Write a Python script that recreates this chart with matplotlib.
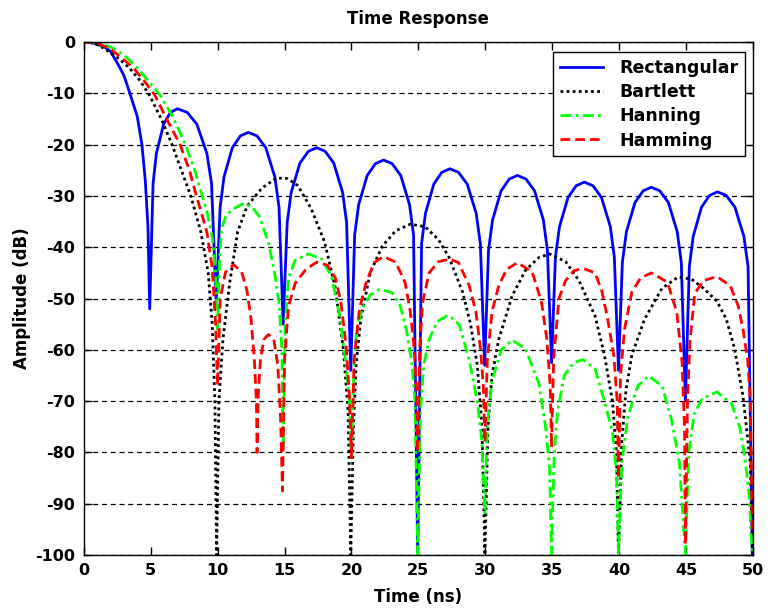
import numpy as np
import matplotlib
matplotlib.use("Agg")
import matplotlib.pyplot as plt

# ---- data (time in ns, amplitude in dB) ----
rect_pts = [
    (0, 0), (0.5, -0.1), (1, -0.4), (1.5, -0.9), (2, -1.8), (2.6, -4.5), (3, -6.5),
    (3.4, -9.6), (4.0, -14.5), (4.35, -20), (4.6, -27), (4.8, -36), (4.93, -52),
    (5.18, -27.6), (5.43, -21.7), (5.97, -16), (6.48, -13.7), (7.0, -13), (7.73, -13.7),
    (8.45, -16), (9.2, -21.7), (9.55, -27.6), (9.9, -51),
    (10.19, -32.2), (10.48, -26.3), (11.1, -20.6), (11.7, -18.3), (12.3, -17.6), (12.95, -18.3),
    (13.6, -20.6), (14.28, -26.3), (14.59, -32.2), (14.9, -55),
    (15.2, -35.2), (15.5, -29.3), (16.15, -23.6), (16.78, -21.3), (17.4, -20.6), (18.04, -21.3),
    (18.68, -23.6), (19.34, -29.3), (19.64, -35.2), (19.95, -64),
    (20.24, -37.6), (20.54, -31.7), (21.18, -26), (21.79, -23.7), (22.4, -23), (23.04, -23.7),
    (23.68, -26), (24.34, -31.7), (24.64, -37.6), (24.95, -100),
    (25.24, -39.3), (25.53, -33.4), (26.15, -27.7), (26.75, -25.4), (27.35, -24.7), (28.0, -25.4),
    (28.65, -27.7), (29.32, -33.4), (29.63, -39.3), (29.95, -63),
    (30.24, -40.6), (30.54, -34.7), (31.18, -29), (31.79, -26.7), (32.4, -26), (33.04, -26.7),
    (33.68, -29), (34.34, -34.7), (34.64, -40.6), (34.95, -62.5),
    (35.24, -41.9), (35.54, -36), (36.18, -30.3), (36.79, -28), (37.4, -27.3), (38.04, -28),
    (38.68, -30.3), (39.34, -36), (39.64, -41.9), (39.95, -64),
    (40.24, -42.9), (40.54, -37), (41.18, -31.3), (41.79, -29), (42.4, -28.3), (43.04, -29),
    (43.68, -31.3), (44.34, -37), (44.64, -42.9), (44.95, -70),
    (45.24, -43.8), (45.53, -37.9), (46.15, -32.2), (46.75, -29.9), (47.35, -29.2), (48.0, -29.9),
    (48.65, -32.2), (49.32, -37.9), (49.63, -43.8), (49.95, -100),
]

bartlett_pts = [
    (0, 0), (0.5, -0.1), (1, -0.5), (1.5, -1.2), (2.5, -3), (3.4, -5), (4.2, -7.5),
    (4.9, -10.3), (5.8, -15), (6.6, -20), (7.3, -25), (8.0, -30), (8.75, -37), (9.3, -45),
    (9.6, -55), (9.8, -70), (9.93, -100),
    (10.1, -70), (10.4, -58), (10.9, -47), (11.5, -37), (12.2, -32), (13.3, -28.5), (14.4, -26.5),
    (15.2, -26.6), (16.0, -28), (17.0, -32.5), (18.0, -39), (18.8, -48), (19.4, -60), (19.75, -72),
    (19.95, -100),
    (20.15, -75), (20.35, -63), (20.7, -54), (21.4, -45), (22.3, -39.8), (23.3, -36.8), (24.4, -35.5),
    (25.5, -36), (26.5, -38.5), (27.3, -42), (28.3, -48.7), (28.9, -55), (29.4, -63), (29.75, -75),
    (29.97, -100),
    (30.2, -75), (30.5, -65), (31.0, -58), (32.0, -49.5), (33.0, -44.5), (34.0, -42), (34.8, -41.3),
    (36.0, -42.8), (37.0, -46.5), (38.2, -53.4), (38.9, -61), (39.5, -70), (39.8, -80), (39.95, -100),
    (40.2, -78), (40.5, -68), (40.95, -61), (41.9, -54), (43.2, -48), (44.4, -45.8), (45.4, -46.2),
    (46.3, -48), (47.3, -50.5), (48.0, -54), (48.6, -59.5), (49.25, -69), (49.8, -82), (49.95, -100),
]

hanning_pts = [
    (0, 0), (0.5, -0.05), (1, -0.2), (1.6, -0.6), (2.2, -1.2), (3.0, -2.5), (4.0, -5), (4.9, -7.8),
    (5.7, -10.3), (6.7, -14.8), (7.6, -20), (8.3, -25), (8.8, -29.5), (9.2, -33), (9.6, -38),
    (9.85, -45), (10.0, -56),
    (10.15, -42), (10.3, -36.5), (10.6, -34), (11.1, -32.6), (12.0, -31.4), (12.6, -32.3),
    (13.1, -33.9), (13.8, -39), (14.3, -45.6), (14.6, -51), (14.8, -60), (14.9, -79),
    (15.05, -55), (15.3, -46), (15.8, -42.5), (16.8, -41.3), (17.8, -42.3), (18.5, -45.6),
    (19.1, -53), (19.6, -63), (19.85, -70), (20.0, -81),
    (20.2, -62), (20.4, -56), (20.8, -52), (21.4, -49.3), (22.1, -48.2), (23.0, -48.8),
    (23.6, -51), (24.1, -56), (24.5, -62.4), (24.75, -70), (24.95, -100),
    (25.15, -72), (25.4, -63), (25.8, -58), (26.4, -54.5), (27.1, -53.4), (27.7, -54),
    (28.1, -55.4), (28.8, -62), (29.4, -70), (29.75, -78), (29.97, -92),
    (30.15, -75), (30.5, -66), (31.2, -60), (32.0, -58.1), (33.0, -59.8), (34.0, -66.5),
    (34.5, -75), (34.8, -83), (34.95, -100),
    (35.15, -80), (35.4, -72), (35.9, -65), (36.6, -62.5), (37.3, -61.9), (38.2, -63.7),
    (38.9, -70), (39.5, -76), (39.8, -84), (39.95, -100),
    (40.2, -82), (40.65, -73), (41.4, -67), (42.2, -65.1), (43.2, -67), (43.9, -73.5),
    (44.5, -82), (44.95, -100),
    (45.2, -80), (45.6, -72.5), (46.2, -69.5), (47.3, -68.2), (48.4, -70.5), (49.0, -75),
    (49.4, -81), (49.7, -88), (49.95, -100),
]

hamming_pts = [
    (0, 0), (0.5, -0.05), (1, -0.2), (1.9, -1.2), (2.8, -3), (3.7, -5), (4.5, -7.5), (5.3, -10.3),
    (6.2, -15), (7.2, -20), (7.9, -25), (8.4, -29.8), (9.2, -37), (9.6, -44), (9.85, -55), (10.0, -67),
    (10.2, -50), (10.6, -44.8), (11.2, -43.4), (11.8, -44.8), (12.2, -48.5), (12.5, -54),
    (12.75, -62), (12.9, -70), (12.95, -80),
    (13.05, -68), (13.2, -62), (13.45, -58), (13.8, -57), (14.2, -58), (14.5, -63), (14.7, -73),
    (14.85, -87.5),
    (15.0, -62), (15.3, -51.5), (15.8, -47), (16.6, -44.3), (17.4, -42.9), (18.2, -43.5),
    (18.8, -46), (19.2, -50.5), (19.6, -59), (19.85, -69), (20.0, -81),
    (20.2, -62), (20.6, -52), (21.1, -46.8), (21.7, -43), (22.4, -41.8), (23.3, -42.9),
    (24.0, -46.8), (24.4, -52.6), (24.7, -60), (24.85, -68), (24.95, -80),
    (25.1, -60), (25.3, -51), (25.8, -45), (26.5, -42.8), (27.35, -42.3), (28.0, -43),
    (28.8, -47.5), (29.3, -52.6), (29.65, -60), (29.85, -67), (29.97, -78),
    (30.15, -62), (30.5, -52.6), (31.0, -47.5), (31.6, -44.3), (32.4, -43), (33.5, -44.8),
    (34.2, -50.7), (34.6, -58), (34.85, -67), (34.95, -79),
    (35.1, -62), (35.5, -50), (36.0, -46.5), (36.6, -44.6), (37.3, -44.1), (38.2, -45),
    (38.7, -48.5), (39.1, -53.4), (39.6, -61), (39.85, -70), (39.95, -85),
    (40.1, -65), (40.4, -56), (40.95, -48.7), (41.6, -46), (42.4, -45), (43.6, -46.8),
    (44.3, -52.6), (44.7, -62.4), (44.88, -75), (44.95, -98),
    (45.1, -70), (45.3, -58), (45.65, -49), (46.3, -46.5), (47.3, -45.7), (48.3, -47.5),
    (48.9, -51.5), (49.25, -56), (49.6, -62), (49.8, -70), (49.95, -96),
]

series_names = ["Rectangular", "Bartlett", "Hanning", "Hamming"]
x_ticks = list(range(0, 51, 5))
y_ticks = list(range(-100, 1, 10))

# ---- figure ----
plt.rcParams['font.family'] = ['DejaVu Sans']
plt.rcParams['font.weight'] = 'bold'
plt.rcParams['axes.unicode_minus'] = False
fig = plt.figure(figsize=(7.68, 6.14), dpi=100)
ax = fig.add_axes([0.109, 0.096, 0.8715, 0.8355])

styles = [
    dict(color=(0, 0, 1), linestyle='-'),
    dict(color='black', linestyle=(0, (1, 1.2))),
    dict(color=(0, 1, 0), linestyle=(0, (4, 1.5, 1, 1.5))),
    dict(color=(1, 0, 0), linestyle=(0, (3.5, 1.8))),
]
for pts, name, st in zip([rect_pts, bartlett_pts, hanning_pts, hamming_pts], series_names, styles):
    arr = np.array(pts, dtype=float)
    ax.plot(arr[:, 0], arr[:, 1], lw=2, label=name, **st)

ax.set_xlim(0, 50)
ax.set_ylim(-100, 0)
ax.set_xticks(x_ticks)
ax.set_yticks(y_ticks)
ax.tick_params(direction='in', length=6, width=1, top=True, right=True,
               labelsize=11.5, pad=6)
for lbl in ax.get_xticklabels() + ax.get_yticklabels():
    lbl.set_fontweight('bold')
ax.yaxis.grid(True, color='black', linestyle=(0, (4, 3)), linewidth=0.9)
ax.xaxis.grid(False)
for sp in ax.spines.values():
    sp.set_linewidth(1)

ax.set_title("Time Response", fontsize=12, fontweight='bold', pad=13)
ax.set_xlabel("Time (ns)", fontsize=12, fontweight='bold', labelpad=7)
ax.set_ylabel("Amplitude (dB)", fontsize=12, fontweight='bold', labelpad=3)

leg = ax.legend(loc='upper right', bbox_to_anchor=(0.988, 0.981), fancybox=False,
                edgecolor='black', framealpha=1, fontsize=12.5, handlelength=2.5,
                borderpad=0.4, labelspacing=0.36, handletextpad=0.9, borderaxespad=0)
leg.get_frame().set_linewidth(1)
for t in leg.get_texts():
    t.set_fontweight('bold')

fig.savefig("out.png", dpi=100)
